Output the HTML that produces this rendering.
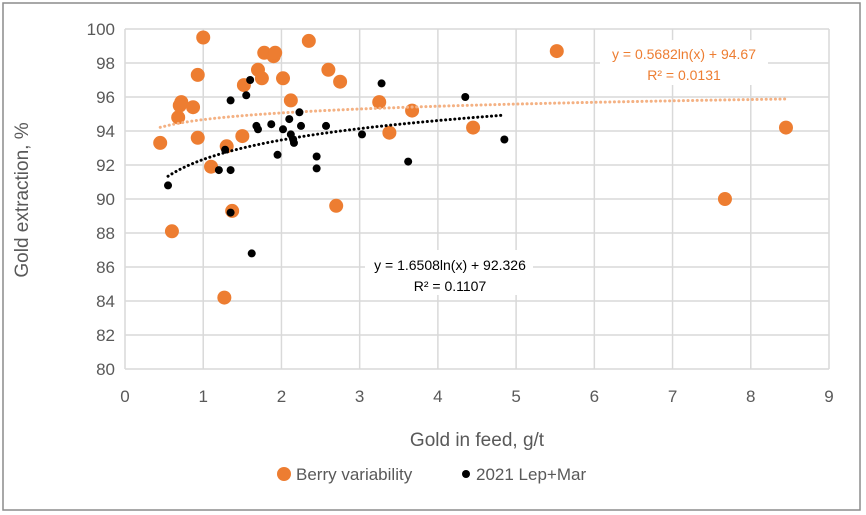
<!DOCTYPE html>
<html><head><meta charset="utf-8"><style>
body{margin:0;background:#fff;}
svg{display:block;font-family:"Liberation Sans",sans-serif;}
</style></head><body>
<svg id="c" width="866" height="515">
<rect x="3" y="3" width="857" height="507" fill="#fff" stroke="#8c8c8c" stroke-width="1.5"/>
<g id="grid"></g><g id="marks"></g>
<text x="28" y="200" transform="rotate(-90 28 200)" text-anchor="middle" font-size="19" fill="#595959">Gold extraction, %</text>
<text x="477" y="446" text-anchor="middle" font-size="19" fill="#595959">Gold in feed, g/t</text>
<g>
<circle cx="284" cy="474" r="7" fill="#ed7d31"/>
<text x="296" y="480" font-size="17" fill="#595959">Berry variability</text>
<circle cx="466" cy="474" r="4" fill="#000"/>
<text x="476" y="480" font-size="17" fill="#595959">2021 Lep+Mar</text>
</g>
<rect x="600" y="40" width="168" height="45" fill="#fff"/>
<text x="684" y="59" text-anchor="middle" font-size="14" fill="#ed7d31">y = 0.5682ln(x) + 94.67</text>
<text x="684" y="80" text-anchor="middle" font-size="14" fill="#ed7d31">R² = 0.0131</text>
<rect x="365" y="250" width="168" height="45" fill="#fff"/>
<text x="450" y="270" text-anchor="middle" font-size="14" fill="#000">y = 1.6508ln(x) + 92.326</text>
<text x="450" y="291" text-anchor="middle" font-size="14" fill="#000">R² = 0.1107</text>
</svg>
<script>
const xTicks=[0,1,2,3,4,5,6,7,8,9];
const yTicks=[80,82,84,86,88,90,92,94,96,98,100];
const berryX=[0.45,0.6,0.68,0.7,0.72,0.87,0.93,0.93,1.0,1.1,1.27,1.3,1.37,1.5,1.52,1.7,1.75,1.78,1.9,1.92,2.02,2.12,2.35,2.6,2.7,2.75,3.25,3.38,3.67,4.45,5.52,7.67,8.45];
const berryY=[93.3,88.1,94.8,95.5,95.7,95.4,97.3,93.6,99.5,91.9,84.2,93.1,89.3,93.7,96.7,97.6,97.1,98.6,98.4,98.6,97.1,95.8,99.3,97.6,89.6,96.9,95.7,93.9,95.2,94.2,98.7,90.0,94.2];
const lepX=[0.55,1.2,1.28,1.35,1.35,1.35,1.55,1.6,1.62,1.68,1.7,1.87,1.95,2.02,2.1,2.12,2.15,2.16,2.23,2.25,2.45,2.45,2.57,3.03,3.28,3.62,4.35,4.85];
const lepY=[90.8,91.7,92.9,89.2,91.7,95.8,96.1,97.0,86.8,94.3,94.1,94.4,92.6,94.1,94.7,93.8,93.5,93.3,95.1,94.3,92.5,91.8,94.3,93.8,96.8,92.2,96.0,93.5];
const trendA=[0.5682,94.67], trendB=[1.6508,92.326];
const X0=125,X1=829,Y0=369,Y1=29;
const sx=v=>X0+(v-0)/9*(X1-X0), sy=v=>Y0-(v-80)/20*(Y0-Y1);
const NS="http://www.w3.org/2000/svg";
const grid=document.getElementById('grid'), marks=document.getElementById('marks');
function mk(p,t,a){const e=document.createElementNS(NS,t);for(const k in a)e.setAttribute(k,a[k]);p.appendChild(e);return e;}
yTicks.forEach(v=>{
 const l=mk(grid,'line',{x1:X0,x2:X1,y1:sy(v),y2:sy(v),stroke:'#d9d9d9','stroke-width':1.5});
 
 
 const t=mk(grid,'text',{x:X0-10,y:sy(v)+6,'text-anchor':'end','font-size':17,fill:'#595959'});
 t.textContent=v;
 
 
});
xTicks.forEach(v=>{
 const l=mk(grid,'line',{x1:sx(v),x2:sx(v),y1:Y1,y2:Y0,stroke:'#d9d9d9','stroke-width':1.5});
 
 
 const t=mk(grid,'text',{x:sx(v),y:Y0+33,'text-anchor':'middle','font-size':17,fill:'#595959'});
 t.textContent=v;
 
 
});
function trend(c,from,to,color,name){
 let d='';for(let i=0;i<=60;i++){const x=from+(to-from)*i/60;d+=(i?'L':'M')+sx(x)+','+sy(c[0]*Math.log(x)+c[1]);}
 const p=mk(marks,'path',{d:d,fill:'none',stroke:color,'stroke-width':3,'stroke-dasharray':'0.1 4.5','stroke-linecap':'round'});
 
 
}
berryX.forEach((x,i)=>{
 const c=mk(marks,'circle',{cx:sx(x),cy:sy(berryY[i]),r:7,fill:'#ed7d31'});
 
 
});
trend(trendA,0.45,8.45,'#f4b183','orange-trendline');
lepX.forEach((x,i)=>{
 const c=mk(marks,'circle',{cx:sx(x),cy:sy(lepY[i]),r:4,fill:'#000'});
 
 
});
trend(trendB,0.55,4.85,'#000','black-trendline');
</script>
</body></html>
